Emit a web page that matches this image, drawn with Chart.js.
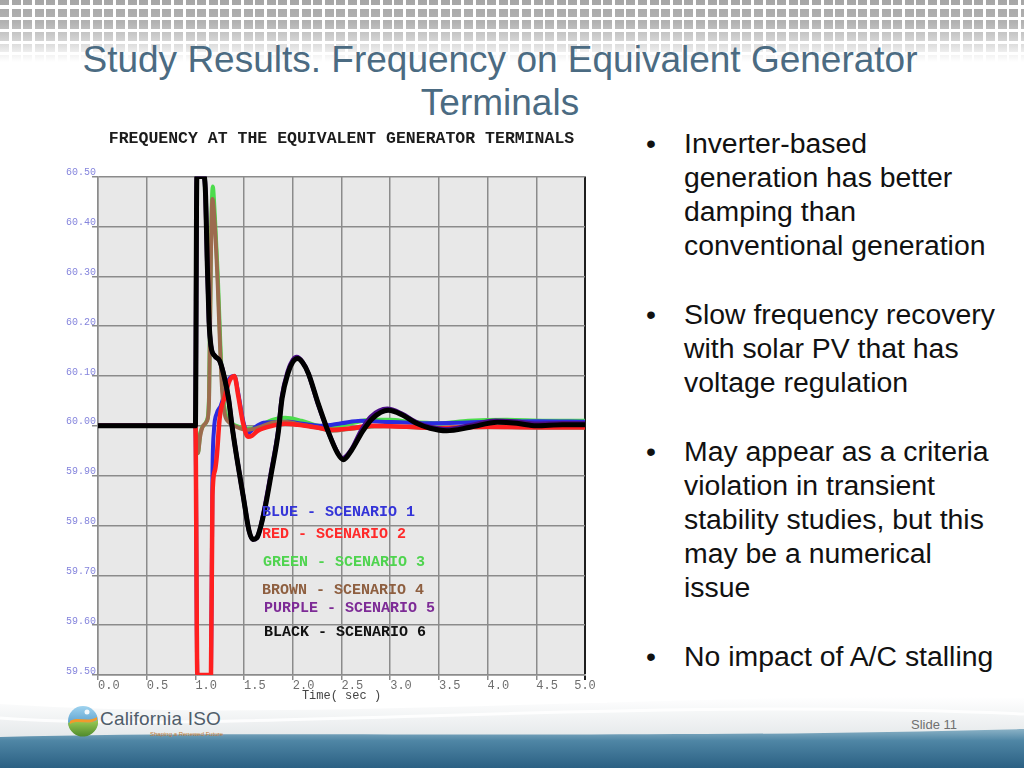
<!DOCTYPE html>
<html>
<head>
<meta charset="utf-8">
<script src="https://cdn.jsdelivr.net/npm/chart.js@4.4.1/dist/chart.umd.min.js"></script>
<style>
  html, body { margin: 0; padding: 0; }
  body {
    width: 1024px; height: 768px; position: relative; overflow: hidden;
    background: #fff; font-family: "Liberation Sans", Arial, sans-serif;
  }
  #tiles {
    position: absolute; left: 0; top: 0; width: 1024px; height: 62px;
    background:
      repeating-linear-gradient(90deg, rgba(255,255,255,0) 0 9px, #fff 9px 11.6px),
      repeating-linear-gradient(180deg, rgba(255,255,255,0) 0 8.5px, #fff 8.5px 11.7px),
      linear-gradient(180deg, #a6a6a6 0, #b2b2b2 22px, #cfcfcf 38px, #eeeeee 52px, #fff 62px);
    background-position: 0 0, 0 -3px, 0 0;
  }
  #slideTitle {
    position: absolute; left: 0; top: 38px; width: 1000px; text-align: center;
    color: #4b6b82; font-size: 37px; line-height: 43px;
  }
  #panel {
    position: absolute; left: 60px; top: 125px; width: 547px; height: 578px;
    background: #fff; z-index: 2;
  }
  #bullets {
    position: absolute; left: 646px; top: 126px; width: 378px;
    font-size: 28.4px; line-height: 34px; color: #111; white-space: nowrap;
  }
  .b { position: relative; padding-left: 38px; margin-bottom: 35px; }
  .b::before { content: "\2022"; position: absolute; left: 0; top: 0; }
  #footer { position: absolute; left: 0; top: 688px; }
  #logoText {
    position: absolute; left: 100px; top: 708px; font-size: 19px; color: #4f5d6a;
    letter-spacing: 0.2px;
  }
  #logoSub {
    position: absolute; left: 150px; top: 731px; font-size: 6px; color: #c27b36;
  }
  #slideNo {
    position: absolute; left: 911px; top: 717px; font-size: 13px; color: #707070;
  }
</style>
</head>
<body>
<div id="tiles"></div>
<div id="slideTitle">Study Results. Frequency on Equivalent Generator<br>Terminals</div>

<svg id="footer" width="1024" height="80" viewBox="0 0 1024 80">
  <defs>
    <linearGradient id="sw" x1="0" y1="0" x2="0" y2="1">
      <stop offset="0" stop-color="#ffffff"/>
      <stop offset="1" stop-color="#e2e6e8"/>
    </linearGradient>
    <linearGradient id="band" x1="0" y1="0" x2="0" y2="1">
      <stop offset="0" stop-color="#8bb2c6"/>
      <stop offset="0.3" stop-color="#4f86a5"/>
      <stop offset="1" stop-color="#2b6083"/>
    </linearGradient>
  </defs>
  <path d="M0,16 C300,36 700,2 1024,10 L1024,50 L0,54 Z" fill="url(#sw)"/>
  <path d="M0,30 C220,46 620,8 1024,26" stroke="#ffffff" stroke-width="3" fill="none" opacity="0.85"/>
  <path d="M0,49 C260,42 620,52 1024,41 L1024,80 L0,80 Z" fill="url(#band)"/>
</svg>

<svg width="34" height="34" viewBox="0 0 34 34" style="position:absolute;left:66px;top:704px">
  <defs>
    <linearGradient id="sky" x1="0" y1="0" x2="0" y2="1">
      <stop offset="0" stop-color="#9fd3ef"/>
      <stop offset="1" stop-color="#2f7fb8"/>
    </linearGradient>
    <linearGradient id="land" x1="0" y1="0" x2="0" y2="1">
      <stop offset="0" stop-color="#9ccc55"/>
      <stop offset="1" stop-color="#4f8a2c"/>
    </linearGradient>
  </defs>
  <circle cx="17" cy="17" r="15" fill="url(#sky)"/>
  <path d="M2,19 C10,14 22,22 32,16 A15,15 0 0 1 2,19 Z" fill="url(#land)"/>
  <path d="M4,17 C12,12 22,19 31,13 L31,16 C22,22 12,15 4,20 Z" fill="#f19a2c"/>
  <circle cx="21" cy="8" r="2.5" fill="#fff" opacity="0.9"/>
</svg>
<div id="logoText">California ISO</div>
<div id="logoSub">Shaping a Renewed Future</div>
<div id="slideNo">Slide 11</div>

<div id="panel"><canvas id="freqChart" width="547" height="578"></canvas></div>

<div id="bullets">
  <div class="b">Inverter-based<br>generation has better<br>damping than<br>conventional generation</div>
  <div class="b">Slow frequency recovery<br>with solar PV that has<br>voltage regulation</div>
  <div class="b">May appear as a criteria<br>violation in transient<br>stability studies, but this<br>may be a numerical<br>issue</div>
  <div class="b">No impact of A/C stalling</div>
</div>

<script>
/* ── Tick labels ── */
const xTickLabels = ["0.0", "0.5", "1.0", "1.5", "2.0", "2.5", "3.0", "3.5", "4.0", "4.5", "5.0"];
const yTickLabels = ["59.50", "59.60", "59.70", "59.80", "59.90", "60.00", "60.10", "60.20", "60.30", "60.40", "60.50"];
const scenarioLabels = [
  "BLUE - SCENARIO 1",
  "RED - SCENARIO 2",
  "GREEN - SCENARIO 3",
  "BROWN - SCENARIO 4",
  "PURPLE - SCENARIO 5",
  "BLACK - SCENARIO 6",
];

/* ── Series: time (sec) / frequency (Hz) ── */
const blueT = [0, 1.0, 1.02, 1.16, 1.175, 1.19, 1.22, 1.26, 1.3, 1.35, 1.4, 1.44, 1.49, 1.54, 1.6, 1.7, 1.8, 1.95, 2.1, 2.3, 2.5, 2.7, 2.9, 3.1, 3.4, 3.7, 4.0, 4.5, 5.0];
const blueF = [60.0, 60.0, 59.5, 59.5, 59.9, 59.99, 60.025, 60.04, 60.065, 60.095, 60.1, 60.065, 60.01, 59.985, 59.995, 60.006, 60.007, 60.008, 60.004, 60.0, 60.005, 60.01, 60.008, 60.007, 60.005, 60.006, 60.008, 60.009, 60.008];

const redT = [0, 1.0, 1.02, 1.16, 1.175, 1.2, 1.22, 1.25, 1.3, 1.35, 1.4, 1.44, 1.49, 1.54, 1.58, 1.64, 1.79, 1.92, 2.05, 2.26, 2.4, 2.6, 2.8, 3.0, 3.2, 3.5, 3.8, 4.0, 4.5, 5.0];
const redF = [60.0, 60.0, 59.5, 59.5, 59.86, 59.91, 59.94, 60.017, 60.057, 60.09, 60.1, 60.06, 60.005, 59.978, 59.98, 59.99, 60.0, 60.004, 60.002, 59.996, 59.992, 59.995, 60.0, 59.999, 59.998, 59.995, 59.997, 59.998, 59.997, 59.997];

const greenT = [0, 1.0, 1.025, 1.05, 1.08, 1.12, 1.14, 1.16, 1.178, 1.2, 1.23, 1.255, 1.275, 1.3, 1.34, 1.42, 1.53, 1.64, 1.79, 1.92, 2.09, 2.26, 2.4, 2.6, 2.8, 3.0, 3.2, 3.5, 3.8, 4.2, 4.6, 5.0];
const greenF = [60.0, 60.0, 59.945, 59.985, 60.0, 60.012, 60.06, 60.37, 60.48, 60.42, 60.3, 60.17, 60.085, 60.035, 60.012, 60.0, 59.994, 59.998, 60.012, 60.016, 60.01, 60.0, 59.997, 60.005, 60.012, 60.012, 60.008, 60.005, 60.01, 60.012, 60.01, 60.01];

const brownT = [0, 1.0, 1.025, 1.05, 1.08, 1.12, 1.14, 1.16, 1.175, 1.2, 1.23, 1.255, 1.275, 1.3, 1.34, 1.42, 1.53, 1.64, 1.79, 1.92, 2.09, 2.26, 2.4, 2.6, 2.8, 3.0, 3.2, 3.5, 3.8, 4.2, 4.6, 5.0];
const brownF = [60.0, 60.0, 59.945, 59.98, 60.0, 60.01, 60.05, 60.35, 60.455, 60.4, 60.28, 60.15, 60.07, 60.025, 60.008, 59.998, 59.992, 59.996, 60.006, 60.008, 60.002, 59.996, 59.99, 59.994, 59.998, 59.999, 59.997, 59.995, 59.997, 59.997, 59.996, 59.996];

const purpleT = [0, 1.0, 1.015, 1.09, 1.105, 1.12, 1.14, 1.16, 1.2, 1.25, 1.3, 1.34, 1.376, 1.43, 1.49, 1.55, 1.59, 1.63, 1.66, 1.72, 1.78, 1.85, 1.89, 1.95, 2.0, 2.04, 2.1, 2.16, 2.26, 2.36, 2.46, 2.51, 2.6, 2.7, 2.8, 2.97, 3.12, 3.26, 3.4, 3.57, 3.8, 4.08, 4.3, 4.5, 4.77, 5.0];
const purpleF = [60.0, 60.0, 60.5, 60.5, 60.46, 60.34, 60.21, 60.16, 60.14, 60.13, 60.095, 60.055, 60.0, 59.93, 59.86, 59.79, 59.772, 59.775, 59.79, 59.845, 59.91, 59.99, 60.06, 60.11, 60.132, 60.138, 60.128, 60.105, 60.043, 59.99, 59.946, 59.935, 59.952, 59.99, 60.018, 60.034, 60.024, 60.008, 59.998, 59.993, 60.0, 60.01, 60.008, 60.004, 60.005, 60.005];

const blackT = [0, 1.0, 1.015, 1.09, 1.105, 1.12, 1.14, 1.16, 1.2, 1.25, 1.3, 1.34, 1.376, 1.43, 1.49, 1.55, 1.59, 1.63, 1.66, 1.72, 1.78, 1.85, 1.89, 1.95, 2.0, 2.05, 2.1, 2.16, 2.26, 2.36, 2.46, 2.52, 2.6, 2.72, 2.82, 2.98, 3.13, 3.27, 3.41, 3.58, 3.82, 4.1, 4.3, 4.5, 4.77, 5.0];
const blackF = [60.0, 60.0, 60.5, 60.5, 60.46, 60.34, 60.21, 60.16, 60.14, 60.13, 60.095, 60.055, 60.0, 59.93, 59.86, 59.79, 59.772, 59.775, 59.79, 59.84, 59.905, 59.985, 60.055, 60.105, 60.128, 60.135, 60.127, 60.105, 60.045, 59.99, 59.945, 59.932, 59.95, 59.99, 60.015, 60.031, 60.021, 60.005, 59.995, 59.99, 59.997, 60.007, 60.005, 60.0, 60.002, 60.002];

/* ── Styles ── */
const MONO = '"Liberation Mono", "DejaVu Sans Mono", monospace';
const GRID = "#8b8b8b";

const pts = (t, f) => t.map((x, i) => ({ x, y: f[i] }));

function series(t, f, color, width, order) {
  return {
    data: pts(t, f),
    borderColor: color,
    borderWidth: width,
    pointRadius: 0,
    cubicInterpolationMode: "monotone",
    fill: false,
    order,
  };
}

/* plot area background */
const plotBg = {
  id: "plotBg",
  beforeDraw(chart) {
    const { ctx, chartArea: a } = chart;
    ctx.save();
    ctx.fillStyle = "#e8e8e8";
    ctx.fillRect(a.left, a.top, a.right - a.left, a.bottom - a.top);
    ctx.restore();
  },
};

/* scenario captions written inside the plot */
const scenarioNotes = {
  id: "scenarioNotes",
  afterDatasetsDraw(chart, args, opts) {
    const { ctx, chartArea: a } = chart;
    ctx.save();
    ctx.font = "bold 15px " + MONO;
    ctx.textBaseline = "middle";
    scenarioLabels.forEach((txt, i) => {
      ctx.fillStyle = opts.colors[i];
      ctx.fillText(txt, a.left + opts.dx[i], a.top + opts.dy[i]);
    });
    ctx.restore();
  },
};

const ctx = document.getElementById("freqChart").getContext("2d");
new Chart(ctx, {
  type: "line",
  data: {
    datasets: [
      series(blueT, blueF, "#2b2be0", 4, 4),
      series(redT, redF, "#ff1f1f", 4.5, 2),
      series(greenT, greenF, "#4cdc4c", 4, 5),
      series(brownT, brownF, "#9c6b4e", 4, 3),
      series(purpleT, purpleF, "#4a0c86", 4.5, 1),
      series(blackT, blackF, "#000000", 5, 0),
    ],
  },
  options: {
    responsive: false,
    animation: false,
    devicePixelRatio: 1,
    layout: { padding: { left: 0, right: 22, top: 0, bottom: 0 } },
    plugins: {
      legend: { display: false },
      tooltip: { enabled: false },
      title: {
        display: true,
        text: "FREQUENCY AT THE EQUIVALENT GENERATOR TERMINALS",
        fullSize: false,
        color: "#1c1c1c",
        font: { family: MONO, size: 16.5, weight: "bold" },
        padding: { top: 4.4, bottom: 27.4 },
      },
      scenarioNotes: {
        colors: ["#3434d8", "#ff2a2a", "#4fd44f", "#8e5f40", "#7d2b96", "#111111"],
        dx: [164, 164, 165, 164, 166, 166],
        dy: [336, 358, 386, 414, 432, 456],
      },
    },
    scales: {
      x: {
        type: "linear",
        min: 0,
        max: 5,
        afterFit: (s) => { s.height = 28; },
        grid: {
          color: (c) => (c.index === xTickLabels.length - 1 ? "#1e1e1e" : GRID),
          lineWidth: (c) => (c.index === xTickLabels.length - 1 ? 2 : 1.5),
          tickLength: 5,
        },
        border: { color: GRID, width: 1.5 },
        ticks: {
          stepSize: 0.5,
          autoSkip: false,
          maxRotation: 0,
          padding: -1,
          color: "#6e6e6e",
          font: { family: MONO, size: 12 },
          callback: (v, i) =>
            i === xTickLabels.length - 1 ? xTickLabels[i] : "   " + xTickLabels[i],
        },
        title: {
          display: true,
          text: "Time( sec )",
          color: "#444",
          font: { family: MONO, size: 12 },
          padding: { top: 0, bottom: 0 },
        },
      },
      y: {
        type: "linear",
        min: 59.5,
        max: 60.5,
        afterFit: (s) => { s.width = 38; },
        grid: { color: GRID, lineWidth: 1.5, tickLength: 6 },
        border: { color: GRID, width: 1.5 },
        ticks: {
          stepSize: 0.1,
          autoSkip: false,
          padding: -4,
          labelOffset: -4,
          color: "#8585dd",
          font: { family: MONO, size: 10 },
          callback: (v, i) => yTickLabels[i],
        },
      },
    },
  },
  plugins: [plotBg, scenarioNotes],
});
</script>
</body>
</html>
